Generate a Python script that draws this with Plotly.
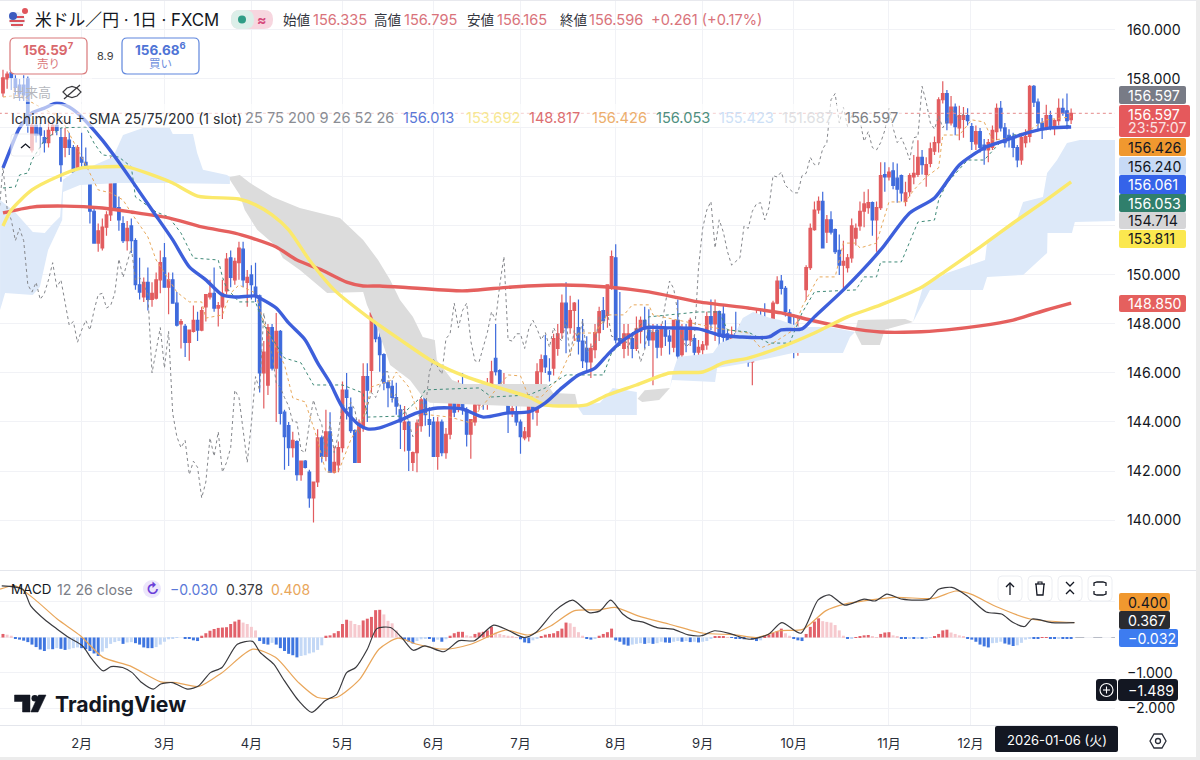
import plotly.graph_objects as go

# daily USD/JPY candles
opens = [
    157.43,158.0,158.25,158.0,157.75,157.75,158.0,155.1,156.1,156.0,
    155.6,155.4,155.9,156.1,155.6,155.2,155.5,155.2,154.2,154.8,
    154.6,154.35,152.6,151.3,151.1,151.95,152.45,154.4,152.75,152.1,
    151.4,152.0,151.4,149.6,149.1,149.7,149.0,149.05,149.8,150.7,
    149.5,149.8,148.85,148.0,147.9,147.25,147.7,148.15,147.75,148.7,
    149.1,149.25,148.65,148.7,149.35,150.7,149.8,150.5,151.05,149.7,
    150.0,149.5,149.15,146.0,145.5,147.85,146.2,147.7,144.4,143.85,
    142.95,143.2,141.85,142.4,141.95,140.9,141.55,143.35,142.6,143.6,
    141.95,142.25,142.95,145.3,144.6,143.65,142.35,143.8,145.85,146.1,
    148.45,147.45,146.75,145.6,145.45,145.0,144.5,143.7,144.0,142.35,
    142.75,143.85,145.0,144.1,144.0,142.6,144.0,142.75,143.5,144.8,
    144.55,144.8,144.5,143.5,144.0,144.7,145.2,145.0,145.4,146.6,
    146.1,144.9,145.15,144.35,144.35,144.0,143.35,143.4,144.9,144.4,
    146.05,146.7,146.05,146.2,147.0,147.65,148.85,147.85,148.55,147.85,
    147.3,147.0,146.45,146.95,147.65,148.55,148.35,149.5,150.7,147.4,
    147.0,147.4,147.4,147.0,147.7,148.15,147.75,147.35,147.75,147.05,
    147.85,147.5,147.05,148.15,146.75,147.75,147.35,147.4,146.85,146.95,
    147.15,148.3,148.0,148.5,148.4,147.6,147.35,147.6,147.2,147.6,
    147.35,146.45,146.95,147.85,147.95,147.6,147.5,148.85,149.75,149.45,
    148.45,147.85,147.05,147.1,149.4,150.3,151.85,152.65,153.0,151.75,
    152.25,151.85,151.0,150.4,150.3,150.7,151.5,152.0,152.6,152.75,
    152.95,152.25,152.75,154.1,154.0,154.25,153.95,154.05,153.0,153.4,
    154.0,154.1,154.8,154.1,154.55,155.05,155.4,157.15,157.4,156.2,
    156.85,156.0,156.35,156.5,156.05,155.35,155.85,155.3,155.1,155.2,
    155.85,156.8,156.0,155.7,155.6,155.2,154.7,155.4,155.65,157.7,
    157.05,156.2,156.0,156.5,156.0,156.3,156.8,156.7,156.335,
]
highs = [
    158.37,158.3,158.35,158.15,158.0,158.15,158.1,156.2,156.2,156.2,
    155.9,156.3,156.3,156.2,156.0,156.0,155.8,155.3,155.3,155.8,
    155.2,154.4,152.8,152.1,152.3,152.6,154.8,154.7,153.2,152.4,
    152.2,152.3,151.5,150.7,149.9,150.3,149.7,150.1,151.0,151.3,
    150.1,150.1,149.3,148.2,148.0,147.75,148.75,148.5,148.7,149.2,
    149.8,150.3,148.9,149.8,150.9,151.0,150.7,151.35,151.35,150.2,
    150.4,150.5,149.2,147.3,148.0,148.0,148.45,147.75,144.5,144.0,
    143.6,143.25,142.4,142.45,142.05,141.55,143.7,143.45,144.5,144.4,
    143.0,143.2,145.65,146.0,145.0,143.7,144.1,146.4,146.4,148.85,
    148.8,147.9,146.8,145.7,145.7,145.6,144.7,144.65,144.05,142.8,
    144.1,145.0,146.3,144.6,144.2,144.2,144.1,143.75,145.4,145.3,
    145.7,146.0,144.6,144.1,145.05,145.55,145.55,145.8,146.5,148.0,
    146.15,146.0,145.2,144.9,144.9,144.1,143.8,145.0,145.0,146.4,
    146.75,147.55,146.6,147.6,148.0,149.2,149.7,149.15,148.9,149.0,
    148.2,147.5,147.2,148.0,148.7,149.1,149.6,151.0,151.25,149.3,
    148.0,148.0,147.6,148.3,148.3,148.7,148.6,148.0,148.0,148.0,
    148.15,147.75,148.15,149.0,148.0,148.0,148.25,147.55,147.35,147.3,
    148.5,149.0,149.0,148.55,148.8,147.75,147.9,148.5,148.0,148.0,
    147.5,147.0,148.6,148.6,148.85,148.0,148.95,149.95,150.0,149.55,
    148.6,148.4,148.3,147.8,150.4,152.1,153.0,153.2,153.4,152.45,
    152.6,151.9,151.65,151.4,150.85,152.3,152.1,153.0,153.4,153.5,
    153.0,153.0,154.6,154.6,154.4,154.6,154.55,154.1,153.8,154.15,
    154.9,155.5,155.1,154.8,155.4,155.65,157.25,157.9,157.55,157.3,
    157.0,156.9,156.85,156.8,156.2,156.1,156.0,155.55,155.55,156.1,
    157.0,157.1,156.2,155.95,155.8,155.3,155.8,155.95,157.75,157.75,
    157.2,156.4,156.95,156.7,156.35,157.2,157.2,157.4,156.795,
]
lows = [
    157.27,157.6,157.55,157.35,157.1,157.1,155.8,155.0,155.4,155.2,
    155.0,155.2,155.7,155.7,153.8,154.8,154.9,153.8,153.9,154.0,
    154.2,152.1,151.3,150.95,151.0,151.6,152.2,152.7,151.8,151.3,
    151.0,150.9,149.4,149.0,148.9,148.55,148.7,149.0,149.25,149.5,
    148.4,148.85,147.9,147.0,146.65,146.5,147.65,147.3,147.7,148.1,
    149.0,148.5,147.9,148.2,149.2,149.5,149.6,149.8,149.5,148.7,
    149.0,148.9,145.2,144.55,145.1,146.1,144.0,143.9,142.05,142.2,
    142.55,141.6,141.6,142.1,140.5,139.9,141.35,142.35,142.4,141.95,
    141.9,141.95,142.75,144.1,143.55,142.35,142.35,143.6,144.0,145.2,
    147.25,146.05,145.3,144.6,144.8,144.3,142.9,142.8,142.0,142.0,
    141.95,143.6,143.85,143.4,142.6,142.05,142.6,142.5,143.3,144.2,
    144.4,144.3,143.0,142.5,143.85,144.5,144.5,144.5,144.9,145.9,
    144.7,144.7,143.55,144.2,143.85,142.7,143.25,143.2,144.1,143.85,
    145.5,146.0,145.65,145.9,146.7,147.4,146.8,147.6,147.3,146.75,
    146.2,146.0,145.8,146.6,147.3,147.75,147.85,149.4,147.2,147.1,
    146.6,146.7,146.6,146.9,147.2,147.0,147.1,145.5,146.6,146.7,
    147.1,146.75,146.85,146.3,146.65,146.85,147.1,146.6,146.6,146.6,
    146.95,147.75,147.3,146.8,147.2,146.3,146.95,146.9,146.9,147.0,
    146.25,145.5,146.55,147.0,147.5,147.3,147.3,148.8,149.2,148.3,
    147.1,146.6,146.7,147.0,148.98,150.2,151.8,152.5,151.1,151.3,
    151.65,150.85,150.0,149.45,150.1,150.5,151.2,151.8,151.95,152.5,
    151.6,150.95,152.65,153.4,153.85,153.5,152.95,153.0,152.8,153.2,
    153.7,154.0,154.1,153.6,154.4,154.9,155.0,157.0,155.9,156.1,
    155.7,155.5,155.6,156.1,155.1,155.1,155.0,154.5,154.6,155.1,
    155.5,155.85,155.2,155.2,154.8,154.4,154.5,155.2,155.4,156.85,
    155.9,155.55,155.9,155.9,155.7,156.1,156.5,155.95,156.165,
]
closes = [
    158.04,158.2,158.05,157.65,157.4,157.35,156.1,156.1,155.7,155.7,
    155.4,155.9,156.1,155.9,154.5,155.6,155.2,154.2,155.2,154.6,
    154.3,152.6,151.3,151.8,151.95,152.45,154.4,152.7,152.25,151.4,
    151.9,151.4,149.6,149.3,149.7,149.0,149.25,149.8,150.5,149.5,
    149.8,148.85,147.95,148.1,147.25,147.75,148.15,147.75,148.55,149.2,
    149.25,148.65,148.75,149.25,150.65,149.9,150.55,151.1,149.8,149.9,
    149.6,149.2,146.0,146.85,147.85,146.2,147.7,144.35,143.4,142.95,
    143.25,141.85,142.4,142.15,140.9,141.55,143.35,142.6,143.6,141.95,
    142.35,142.95,145.3,145.0,143.65,142.35,143.95,145.85,145.3,148.45,
    147.4,146.75,145.6,145.4,145.0,144.65,144.0,144.0,142.85,142.75,
    143.95,144.9,144.3,143.9,142.6,144.0,142.75,143.5,144.8,144.4,
    144.8,144.5,143.5,144.1,144.7,145.2,145.0,145.45,146.05,146.05,
    144.9,145.15,144.4,144.55,144.0,143.4,143.6,144.9,144.5,146.05,
    146.55,146.25,145.95,147.4,147.6,148.85,147.85,148.55,148.85,147.3,
    146.5,146.45,147.0,147.65,148.5,148.15,149.6,150.75,147.35,147.3,
    147.6,147.6,147.0,147.8,148.15,147.8,147.35,147.65,147.05,147.85,
    147.5,147.3,148.15,146.7,147.75,147.35,148.15,146.85,147.05,147.15,
    148.3,148.0,148.5,147.5,147.45,147.3,147.55,147.0,147.6,147.3,
    146.45,146.95,148.05,147.6,147.7,147.8,148.85,149.75,149.45,148.5,
    147.5,147.05,147.25,147.4,150.3,151.9,152.65,153.0,151.1,152.25,
    151.75,150.95,150.4,150.55,150.7,152.0,151.9,152.6,152.9,152.95,
    152.25,152.75,154.05,154.0,154.2,153.65,153.5,153.35,153.35,154.05,
    154.15,154.8,154.5,154.5,155.15,155.4,157.15,157.4,156.2,156.85,
    156.05,156.5,156.5,156.3,155.45,155.85,155.2,155.1,155.4,155.9,
    156.8,156.0,155.4,155.6,155.2,154.7,155.6,155.65,157.7,157.05,
    156.2,155.95,156.5,156.0,156.3,156.8,156.6,156.3,156.596,
]

# moving averages and ichimoku lines as (bar, price) points
sma25 = [(0,154.37),(2,155.22),(4,156.0),(7,156.61),(10,156.81),(13,157.02),(16,156.85),(19,156.45),
    (24,155.5),(28,154.6),(31,153.88),(36,152.65),(41,151.43),(45,150.33),(49,149.8),(53,149.18),
    (56,149.1),(61,149.14),(62,149.06),(66,148.65),(69,148.04),(73,147.35),(76,146.41),(79,145.6),
    (82,144.6),(86,143.88),(88,143.72),(91,143.76),(96,144.08),(100,144.37),(105,144.57),(111,144.53),
    (116,144.2),(122,144.37),(127,144.41),(131,144.78),(135,145.39),(139,145.92),(143,146.2),(146,146.74),
    (149,147.23),(155,147.84),(161,147.84),(168,147.8),(173,147.55),(178,147.47),(185,147.47),(188,147.76),
    (193,147.8),(196,148.29),(203,149.39),(212,151.02),(219,152.53),(225,153.14),(231,154.49),(237,155.18),
    (241,155.43),(248,155.83),(253,156.0),(258,156.04)]
sma75 = [(0,152.0),(2,152.65),(7,153.47),(13,154.0),(19,154.37),(24,154.41),(30,154.41),(36,154.08),
    (41,153.75),(47,153.22),(57,153.1),(61,152.86),(65,152.45),(69,151.84),(74,150.61),(80,149.39),
    (88,148.3),(96,147.35),(104,146.45),(112,145.84),(120,145.39),(127,145.02),(131,144.7),(136,144.65),
    (141,144.7),(146,145.1),(153,145.51),(161,146.0),(169,146.04),(174,146.41),(180,146.61),(188,147.06),
    (196,147.63),(204,148.29),(212,148.78),(222,149.51),(228,150.2),(236,151.14),(244,152.12),(251,152.94),
    (258,153.8)]
sma200 = [(0,152.53),(7,152.77),(15,152.81),(24,152.73),(31,152.57),(40,152.33),(48,151.96),(56,151.71),
    (60,151.51),(66,151.14),(71,150.61),(77,150.2),(83,149.71),(87,149.55),(91,149.55),(99,149.47),
    (111,149.35),(123,149.51),(135,149.59),(146,149.51),(156,149.31),(168,148.9),(180,148.65),(188,148.45),
    (196,148.12),(204,147.84),(212,147.67),(220,147.67),(228,147.76),(236,147.92),(244,148.16),(252,148.57),
    (258,148.85)]
tenkan = [(0,157.26),(4,157.34),(8,156.94),(14,156.41),(20,154.49),(23,153.47),(26,153.35),(29,153.06),
    (31,152.53),(35,151.55),(37,150.61),(42,149.3),(45,148.9),(48,148.9),(49,148.24),(53,148.37),
    (55,149.26),(57,149.59),(61,149.26),(63,148.04),(68,146.33),(70,144.98),(73,144.82),(76,143.27),
    (78,141.96),(81,141.96),(84,143.27),(87,144.17),(89,145.43),(94,145.72),(95,146.04),(98,145.43),
    (100,144.49),(103,144.29),(108,144.2),(113,143.96),(115,144.49),(122,145.92),(125,145.88),(127,145.02),
    (130,145.02),(134,145.72),(137,146.82),(139,147.63),(143,147.63),(146,148.37),(150,148.37),(152,148.78),
    (156,148.78),(157,148.37),(172,147.84),(180,147.63),(183,147.02),(186,147.22),(191,147.76),(193,148.69),
    (197,149.92),(201,149.92),(203,151.3),(206,151.3),(207,151.1),(211,151.3),(214,152.98),(218,152.98),
    (220,153.47),(223,154.0),(226,154.37),(227,155.71),(231,155.71),(234,156.33),(237,156.24),(239,155.51),
    (244,155.59),(248,155.92),(252,156.33),(258,156.45)]
kijun = [(0,153.55),(3,153.59),(4,154.08),(6,154.16),(7,154.69),(10,155.5),(14,156.0),(20,156.04),
    (22,155.38),(24,154.9),(28,154.81),(31,154.41),(32,153.18),(37,152.57),(40,152.37),(43,151.71),
    (46,150.69),(52,150.61),(53,149.92),(54,149.47),(57,148.9),(61,148.9),(63,147.96),(68,146.61),
    (72,146.41),(75,145.51),(82,145.51),(87,145.18),(88,144.2),(96,144.24),(101,145.02),(102,145.31),
    (115,145.39),(118,145.02),(127,145.1),(131,145.39),(136,145.92),(145,145.92),(147,146.82),(156,148.29),
    (168,148.49),(173,148.49),(175,147.76),(180,147.67),(185,147.22),(190,147.22),(193,148.45),(196,149.31),
    (206,149.39),(208,149.92),(211,149.92),(212,150.53),(217,150.53),(221,152.16),(225,152.24),(226,153.06),
    (228,153.75),(231,154.29),(233,154.69),(237,154.69),(241,155.43),(244,155.71),(258,156.12)]
chikou_shift = 26

# cloud pieces, upper and lower edge (bar, price)
kumo_up1_top = [(-0.7,153.06),(2.9,152.57),(7.2,151.75),(10.1,151.71),(11.8,152.04),(13.8,152.37),(14.5,153.88),
    (16.9,154.16),(18.6,154.37),(21,154.41),(26.6,154.81),(29,155.71),(33.8,156.0),(40.3,156.0),(41,155.75),
    (45.9,155.75),(46.9,154.98),(48.3,154.29),(54.1,154.08),(54.8,154.0)]
kumo_up1_bot = [(-0.7,148.57),(0.5,149.26),(7.2,149.18),(8.9,149.51),(10.9,151.02),(14.3,152.24),(14.5,153.39),
    (18.6,153.67),(28.3,153.75),(39.6,153.75),(54.8,153.71)]
kumo_dn1_top = [(54.8,154.0),(57.2,154.08),(59.7,153.75),(65.2,153.18),(71.7,152.73),(81.4,152.32),(87,151.43),
    (90.6,150.61),(93.5,149.8),(95.9,148.98),(99,148.29),(101.4,147.47),(104.3,147.35),(104.8,146.53),
    (108.5,145.71),(111.1,145.55),(131.4,145.55),(132.9,145.18),(138.2,145.14),(138.9,144.69)]
kumo_dn1_bot = [(54.8,153.88),(57.2,153.26),(58.4,152.65),(61.4,151.84),(66.2,151.14),(67.6,150.69),(71.7,150.2),
    (78.3,149.26),(87,149.3),(87.9,148.78),(90.6,147.76),(93.5,146.33),(98.3,145.71),(101.4,145.02),
    (103.1,144.78),(129,144.61),(138.9,144.61)]
kumo_up2_top = [(138.6,144.66),(144.2,144.78),(147.3,145.39),(153.1,145.22)]
kumo_up2_bot = [(138.6,144.66),(140.1,144.29),(143.5,144.29),(153.1,144.29)]
kumo_dn2_top = [(153.3,144.95),(155,145.3),(161.1,145.39)]
kumo_dn2_bot = [(153.3,144.95),(154.4,144.82),(158.5,144.9),(160.4,145.25),(161.1,145.39)]
kumo_up3_top = [(161.1,145.39),(161.8,146.04),(163,146.65),(171.5,146.82),(173.2,147.22),(176.3,147.43),
    (178.7,148.24),(181.2,148.49),(185.3,148.24),(187.7,148.16),(192.5,147.88),(199.8,147.88),(205.8,147.67)]
kumo_up3_bot = [(161.1,145.39),(161.6,145.71),(172,145.63),(172.5,146.2),(179.7,146.41),(190.8,146.82),
    (202.9,146.82),(204.6,147.47),(205.8,147.67)]
kumo_dn3_top = [(205.8,147.67),(206.5,148.16),(217.9,148.2),(219.8,148.08)]
kumo_dn3_bot = [(205.8,147.67),(207.4,147.14),(211.8,147.14),(213,147.76),(219.8,148.08)]
kumo_up4_top = [(219.8,148.08),(222.2,149.51),(228,150.08),(237.2,150.61),(237.7,151.3),(244.9,152.24),(246.4,152.98),
    (251.2,153.18),(252.2,154.16),(254.6,154.69),(257,155.38),(260.1,155.51),(268.6,155.51)]
kumo_up4_bot = [(219.8,148.08),(223.9,149.39),(236.7,149.39),(237.7,149.92),(246.4,150.0),(252.2,150.9),
    (252.3,151.71),(258.2,151.71),(258.9,152.16),(268.6,152.2)]

# MACD pane
macd_line = [(-0.3,1.455),(4.8,1.36),(6.7,0.89),(10.4,0.47),(13.1,0.235),(15.9,0.0),(19.2,-0.235),(21.5,-0.61),
    (24.2,-0.94),(26.1,-0.82),(28.9,-0.845),(31.2,-0.99),(33.5,-1.27),(36.3,-1.455),(38.1,-1.31),(40.9,-1.27),
    (44.6,-1.455),(47.3,-1.36),(50.1,-0.99),(52.9,-0.845),(56.6,-0.19),(60.3,-0.11),(62.1,-0.42),(65.4,-0.75),
    (67.7,-1.17),(71.4,-1.78),(74.6,-2.11),(77.8,-1.78),(80.6,-1.6),(83,-0.99),(85.2,-0.845),(88,-0.33),
    (90.3,0.25),(93.6,0.28),(96.3,0.0),(99.1,-0.36),(101.9,-0.235),(106.5,-0.4),(110.2,-0.09),(113.9,-0.09),
    (118.5,0.35),(122.2,0.19),(125.9,0.0),(128.7,0.14),(133.3,0.75),(137.6,1.05),(141.6,0.7),(144.2,0.75),
    (146.8,1.05),(149.7,0.66),(152,0.49),(154.4,0.44),(158,0.28),(161.8,0.235),(165.5,0.075),(168.7,0.05),
    (171.9,0.19),(175.6,0.11),(180.2,-0.05),(184.9,0.09),(188.1,0.42),(192.7,0.12),(196.9,1.06),(199.6,1.2),
    (203.3,0.91),(208,1.08),(210.7,1.03),(213.5,1.22),(217.2,1.08),(223.7,1.08),(226,1.36),(229.2,1.41),
    (232.9,1.17),(237.5,0.72),(241.2,0.66),(244,0.42),(246.8,0.31),(248.6,0.52),(253.3,0.42),(258.8,0.42)]
macd_signal = [(-0.7,1.36),(3,1.455),(7.6,1.08),(13.1,0.52),(18.7,0.05),(24.2,-0.56),(30.7,-0.8),(38.1,-1.25),
    (41.8,-1.27),(47.3,-1.38),(52.9,-0.99),(60.3,-0.33),(65.8,-0.56),(71.4,-1.27),(76,-1.69),(80.6,-1.69),
    (86.2,-1.17),(90.8,-0.33),(95.4,-0.02),(100,-0.19),(106.5,-0.33),(113,-0.19),(121.3,0.21),(126.8,0.07),
    (132.4,0.33),(137.9,0.75),(144.2,0.78),(147.9,0.85),(153.4,0.61),(160.8,0.38),(169.2,0.12),(176.5,0.08),
    (182.1,0.0),(187.6,0.19),(193.2,0.23),(198.7,0.75),(203.3,0.94),(215.4,1.13),(224.6,1.1),(230.2,1.31),
    (233.8,1.22),(240.3,0.85),(248.2,0.52),(258.8,0.42)]
macd_hist = [
    0.10,0.08,0.05,-0.02,-0.06,-0.09,-0.13,-0.2,-0.27,-0.34,
    -0.38,-0.33,-0.33,-0.3,-0.32,-0.35,-0.33,-0.3,-0.28,-0.3,
    -0.33,-0.38,-0.45,-0.52,-0.4,-0.3,-0.18,-0.13,-0.1,-0.18,
    -0.14,-0.13,-0.16,-0.2,-0.28,-0.3,-0.3,-0.27,-0.2,-0.12,
    -0.05,-0.02,-0.01,0.0,-0.02,-0.04,-0.08,-0.1,0.05,0.12,
    0.19,0.24,0.27,0.28,0.29,0.38,0.45,0.5,0.42,0.38,
    0.3,0.2,-0.1,-0.18,-0.2,-0.15,-0.2,-0.3,-0.38,-0.46,
    -0.5,-0.56,-0.52,-0.5,-0.45,-0.42,-0.35,-0.22,0.05,0.06,
    0.12,0.18,0.38,0.5,0.47,0.38,0.35,0.48,0.53,0.58,
    0.77,0.78,0.65,0.47,0.4,0.2,0.03,-0.06,-0.12,-0.17,
    -0.1,-0.05,-0.02,-0.04,-0.12,-0.06,-0.12,-0.05,0.05,0.12,
    0.16,0.16,0.06,0.03,0.1,0.14,0.16,0.2,0.3,0.14,
    0.1,0.07,0.05,0.03,0.01,-0.05,-0.14,-0.16,-0.08,-0.03,
    0.03,0.08,0.1,0.12,0.18,0.25,0.42,0.4,0.3,0.15,
    0.05,-0.02,-0.06,-0.04,0.05,0.1,0.15,0.25,-0.08,-0.12,
    -0.2,-0.23,-0.2,-0.18,-0.16,-0.18,-0.16,-0.18,-0.16,-0.12,
    -0.14,-0.15,-0.12,-0.1,-0.12,-0.1,-0.13,-0.12,-0.14,-0.12,
    -0.1,-0.02,0.02,0.03,0.03,0.01,-0.01,-0.02,-0.03,-0.05,
    -0.03,-0.06,-0.1,-0.08,0.02,0.08,0.13,0.18,0.25,0.12,
    0.05,-0.04,-0.08,-0.1,0.1,0.3,0.45,0.54,0.46,0.44,
    0.42,0.35,0.2,0.05,-0.03,-0.02,0.01,0.03,0.06,0.07,
    0.02,0.01,0.1,0.14,0.15,0.06,0.03,-0.03,-0.04,-0.02,
    -0.04,-0.02,-0.03,-0.02,-0.01,0.03,0.1,0.2,0.22,0.14,
    0.1,0.06,0.02,-0.03,-0.06,-0.12,-0.2,-0.25,-0.28,-0.16,
    -0.15,-0.12,-0.17,-0.2,-0.24,-0.22,-0.15,-0.06,-0.02,-0.02,
    -0.02,0.01,0.01,-0.02,-0.03,-0.02,-0.02,-0.03,-0.03,
]

month_bars = [19, 39, 60, 82, 104, 125, 148, 169, 191, 214, 233.7]
month_labels = ["2月", "3月", "4月", "5月", "6月", "7月", "8月", "9月", "10月", "11月", "12月"]
price_ticks = [160, 158, 150, 148, 146, 144, 142, 140]
price_labels = ["160.000", "158.000", "150.000", "148.000", "146.000", "144.000", "142.000", "140.000"]
# these levels only get a grid line, the price tags sit where their labels would be
price_grid_only = [156, 154, 152]
macd_ticks = [-1, -2]
macd_labels = ["−1.000", "−2.000"]
macd_grid_only = [1, 0]

FONT = "Inter, Noto Sans CJK JP, sans-serif"
RED = "#e25c5f"
BLUE = "#3f6bdc"
GRID = "#f1f2f6"


def fx(x):
    return x / 1200


def fy(y):
    return 1 - y / 760


bars = list(range(len(closes)))

fig = go.Figure()


def add_line(points, color, width, dash="solid", yaxis="y", xaxis="x", smooth=False):
    line = dict(color=color, width=width, dash=dash)
    if smooth:
        line.update(shape="spline", smoothing=0.7)
    fig.add_trace(go.Scatter(x=[p[0] for p in points], y=[p[1] for p in points], mode="lines",
                             line=line, xaxis=xaxis, yaxis=yaxis, hoverinfo="skip", showlegend=False))


def add_kumo(top, bottom, color):
    outline = top + bottom[::-1]
    fig.add_trace(go.Scatter(x=[p[0] for p in outline], y=[p[1] for p in outline], mode="lines",
                             fill="toself", fillcolor=color, line=dict(width=0),
                             hoverinfo="skip", showlegend=False))


KUMO_UP = "#dde9f9"
KUMO_DN = "#dcdcdc"
add_kumo(kumo_up1_top, kumo_up1_bot, KUMO_UP)
add_kumo(kumo_dn1_top, kumo_dn1_bot, KUMO_DN)
add_kumo(kumo_up2_top, kumo_up2_bot, KUMO_UP)
add_kumo(kumo_dn2_top, kumo_dn2_bot, KUMO_DN)
add_kumo(kumo_up3_top, kumo_up3_bot, KUMO_UP)
add_kumo(kumo_dn3_top, kumo_dn3_bot, KUMO_DN)
add_kumo(kumo_up4_top, kumo_up4_bot, KUMO_UP)

fig.add_trace(go.Candlestick(x=bars, open=opens, high=highs, low=lows, close=closes, whiskerwidth=0,
                             increasing=dict(line=dict(color=RED, width=1.2), fillcolor=RED),
                             decreasing=dict(line=dict(color=BLUE, width=1.2), fillcolor=BLUE),
                             hoverinfo="skip", showlegend=False))

add_line([(b - chikou_shift, c) for b, c in zip(bars, closes)], "#85878c", 1, "dot")
add_line(tenkan, "#e8a95c", 1, "dot")
add_line(kijun, "#3f8a78", 1, "dot")
add_line(sma200, "#e5605e", 3.4, smooth=True)
add_line(sma75, "#fbe96b", 3.4, smooth=True)
add_line(sma25, "#3d5fdb", 3.4, smooth=True)

# histogram colour follows rising / falling like the TradingView default
hist_colors = []
for i, v in enumerate(macd_hist):
    prev = macd_hist[i - 1] if i else v
    if v >= 0:
        hist_colors.append("#e2616a" if v >= prev else "#f6c9ce")
    else:
        hist_colors.append("#3f76e0" if v <= prev else "#c3d8f6")
fig.add_trace(go.Bar(x=bars, y=macd_hist, marker=dict(color=hist_colors, line=dict(width=0)), width=0.72,
                     xaxis="x2", yaxis="y2", hoverinfo="skip", showlegend=False))
add_line(macd_signal, "#e9a65a", 1.2, yaxis="y2", xaxis="x2", smooth=True)
add_line(macd_line, "#3a3a3e", 1.2, yaxis="y2", xaxis="x2", smooth=True)

shapes = []
annots = []


def text(x, y, s, size=13, color="#131722", anchor="left", weight=None):
    if weight:
        s = f"<b>{s}</b>"
    annots.append(dict(x=fx(x), y=fy(y), xref="paper", yref="paper", text=s, showarrow=False,
                       xanchor=anchor, yanchor="middle", align=anchor, borderpad=0,
                       font=dict(family=FONT, size=size, color=color)))


def rrect(x0, y0, x1, y1, r=3, fill="white", line=None, width=1, opacity=1):
    p = (f"M{fx(x0 + r)},{fy(y0)} L{fx(x1 - r)},{fy(y0)} Q{fx(x1)},{fy(y0)} {fx(x1)},{fy(y0 + r)} "
         f"L{fx(x1)},{fy(y1 - r)} Q{fx(x1)},{fy(y1)} {fx(x1 - r)},{fy(y1)} "
         f"L{fx(x0 + r)},{fy(y1)} Q{fx(x0)},{fy(y1)} {fx(x0)},{fy(y1 - r)} "
         f"L{fx(x0)},{fy(y0 + r)} Q{fx(x0)},{fy(y0)} {fx(x0 + r)},{fy(y0)} Z")
    shapes.append(dict(type="path", path=p, xref="paper", yref="paper", fillcolor=fill, opacity=opacity,
                       line=dict(color=line or fill, width=width if line else 0), layer="above"))


def poly(points, color="#131722", width=1.3, fill=None, close=False):
    p = "M" + " L".join(f"{fx(x)},{fy(y)}" for x, y in points) + (" Z" if close else "")
    shapes.append(dict(type="path", path=p, xref="paper", yref="paper", layer="above",
                       fillcolor=fill or "rgba(0,0,0,0)", line=dict(color=color, width=width)))


def circle(cx, cy, r, fill=None, line=None, width=1):
    shapes.append(dict(type="circle", xref="paper", yref="paper", layer="above",
                       x0=fx(cx - r), x1=fx(cx + r), y0=fy(cy - r), y1=fy(cy + r),
                       fillcolor=fill or "rgba(0,0,0,0)", line=dict(color=line or "rgba(0,0,0,0)", width=width)))


# price line of the last close, macd zero line, pane separators
shapes.append(dict(type="line", xref="x", yref="y", x0=-1, x1=268.6, y0=closes[-1], y1=closes[-1], layer="above",
                   line=dict(color="#e58a8a", width=1, dash="dot")))
shapes.append(dict(type="line", xref="x2", yref="y2", x0=259, x1=268.6, y0=0, y1=0, layer="above",
                   line=dict(color="#b8bcc6", width=1, dash="dash")))
poly([(0, 570.5), (1200, 570.5)], "#e4e6ec", 1)
poly([(0, 725.5), (1115, 725.5)], "#e4e6ec", 1)
poly([(0, 0.5), (1200, 0.5)], "#e8e9ee", 1)
rrect(1196, 0, 1200, 760, 0, "#ececec")
rrect(0, 757, 1200, 760, 0, "#ececec")

# faded panels behind the legend rows
rrect(8, 78, 92, 102, 0, "white", opacity=0.55)
rrect(8, 104, 905, 127, 0, "white", opacity=0.6)
rrect(11, 134, 40, 156, 3, "white", "#e6e7ec", 1, opacity=0.65)
poly([(21, 148), (25.5, 144), (30, 148)], "#131722", 1.3)

# header
circle(17, 20, 8, "#eef0f4")
poly([(10, 17), (24, 17)], "#d8505a", 2)
poly([(9.5, 21), (24.5, 21)], "#d8505a", 2)
poly([(11, 25), (23, 25)], "#d8505a", 2)
circle(13, 16, 4, "#3c5bbf")
circle(25, 11, 3, "#e0555c")
text(34, 20, "米ドル／円 · 1日 · FXCM", 16.8, "#131722")
rrect(231, 10, 273, 29, 9, "#f7d6df")
rrect(231, 10, 254, 29, 9, "#dcefe9")
circle(242, 19.5, 4, "#2f9d86")
text(262, 19.5, "≈", 14, "#d64a7c", "center", True)
RED_TXT = "#d9737b"
VAL_SIZE = 14.6
text(282, 20, "始値", 13.5, "#333640")
text(312, 20, "156.335", VAL_SIZE, RED_TXT)
text(373, 20, "高値", 13.5, "#333640")
text(403, 20, "156.795", VAL_SIZE, RED_TXT)
text(466, 20, "安値", 13.5, "#333640")
text(496, 20, "156.165", VAL_SIZE, RED_TXT)
text(559, 20, "終値", 13.5, "#333640")
text(588, 20, "156.596", VAL_SIZE, RED_TXT)
text(650, 20, "+0.261 (+0.17%)", VAL_SIZE, RED_TXT)

# bid / ask boxes
rrect(10, 38, 87, 74, 5, "white", "#d9787a", 1.2)
text(48.5, 49, "<b>156.59<sup>7</sup></b>", 13.5, "#d9686c", "center")
text(48.5, 64, "売り", 11.5, "#d9787a", "center")
text(105, 56, "8.9", 11, "#444", "center")
rrect(122, 38, 199, 74, 5, "white", "#5f86dd", 1.2)
text(160.5, 49, "<b>156.68<sup>6</sup></b>", 13.5, "#4f74d6", "center")
text(160.5, 64, "買い", 11.5, "#6f8fdd", "center")

# volume row and hidden-eye icon
text(11, 92, "出来高", 13, "#b5b7bd")
poly([(63, 92), (67, 88), (72, 86.5), (77, 88), (81, 92), (77, 96), (72, 97.5), (67, 96)], "#3a3a3e", 1.2, close=True)
poly([(64, 99), (80, 85)], "#3a3a3e", 1.3)

# indicator legend
text(10, 118, "Ichimoku + SMA 25/75/200 (1 slot)", 14.1, "#2c2f36")
text(244, 118, "25 75 200 9 26 52 26", 14.6, "#8a8d94")
legend_vals = ["156.013", "153.692", "148.817", "156.426", "156.053", "155.423", "151.687", "156.597"]
legend_cols = ["#5a78d8", "#f7e892", "#dc6e70", "#ecae6c", "#4f8f80", "#cddff6", "#dedfe3", "#7d7f85"]
for lx, lv, lc in zip([402, 465, 528, 591, 655, 718, 781, 844], legend_vals, legend_cols):
    text(lx, 118, lv, VAL_SIZE, lc)

# price tags on the right axis
TAG_SIZE = 14.2
tags = [(86, 104, "156.597", "#787b86", "white"), (138, 156, "156.426", "#f0982f", "#131722"),
        (157, 175, "156.240", "#c7daf6", "#131722"), (175, 194, "156.061", "#3563e9", "white"),
        (194, 212, "156.053", "#307f6c", "white"), (212, 229, "154.714", "#d6d6d8", "#131722"),
        (230, 248, "153.811", "#fbe84f", "#131722"), (295, 312, "148.850", "#e5605e", "white")]
for t0, t1, tv, bg, fg in tags:
    rrect(1119, t0, 1186, t1, 2, bg)
    text(1127, (t0 + t1) / 2, tv, TAG_SIZE, fg)
rrect(1119, 105, 1190, 137, 2, "#e5595c")
text(1127, 114, "156.597", TAG_SIZE, "white")
text(1127, 128, "23:57:07", TAG_SIZE, "#fbe3e3")

# MACD legend and tags
text(10, 589, "MACD", 13.4, "#131722")
text(56, 589, "12 26 close", 14.2, "#7b7e86")
circle(152, 589, 9, "#ece6fb")
text(152, 588.5, "↻", 14, "#6a3fd8", "center", True)
text(169, 589, "−0.030", 14, "#5a78d8")
text(225, 589, "0.378", 14, "#3a3a3e")
text(270, 589, "0.408", 14, "#e9a65a")
rrect(1119, 593, 1170, 611, 2, "#f0982f")
text(1127, 602, "0.400", TAG_SIZE, "#131722")
rrect(1119, 611, 1170, 629, 2, "#2a2b30")
text(1127, 620, "0.367", TAG_SIZE, "white")
rrect(1119, 629, 1178, 647, 2, "#3d7cf0")
text(1127, 638, "−0.032", TAG_SIZE, "white")
rrect(1096, 679, 1117, 701, 3, "#131722")
circle(1106.5, 690, 6.5, None, "white", 1.1)
poly([(1103, 690), (1110, 690)], "white", 1.1)
poly([(1106.5, 686.5), (1106.5, 693.5)], "white", 1.1)
rrect(1118, 679, 1178, 701, 3, "#131722")
text(1127, 690, "−1.489", TAG_SIZE, "white")
rrect(995, 726, 1118, 752, 2, "#131722")
text(1056.5, 739.5, "2026-01-06 (火)", 13, "white", "center")

# pane buttons
for bx in [998, 1028, 1058, 1088]:
    rrect(bx, 576, bx + 24, 601, 4, "white", "#eceef2", 1)
poly([(1010, 595), (1010, 583)], "#131722", 1.3)
poly([(1006, 587), (1010, 583), (1014, 587)], "#131722", 1.3)
poly([(1035, 584), (1045, 584)], "#131722", 1.3)
poly([(1038, 584), (1038, 582), (1042, 582), (1042, 584)], "#131722", 1.1)
poly([(1036, 584), (1037, 595), (1043, 595), (1044, 584)], "#131722", 1.3)
poly([(1066, 582), (1070, 586), (1074, 582)], "#131722", 1.3)
poly([(1066, 594), (1070, 590), (1074, 594)], "#131722", 1.3)
poly([(1094, 586), (1094, 583), (1097, 582), (1103, 582), (1106, 583), (1106, 586)], "#131722", 1.3)
poly([(1094, 591), (1094, 594), (1097, 595), (1103, 595), (1106, 594), (1106, 591)], "#131722", 1.3)

# settings hexagon
poly([(1150, 741), (1154, 734), (1162, 734), (1166, 741), (1162, 748), (1154, 748)], "#2a2e39", 1.3, close=True)
circle(1158, 741, 2.5, None, "#2a2e39", 1.3)

# TradingView logo
poly([(14.5, 695), (30, 695), (30, 712), (22.5, 712), (22.5, 701.5), (14.5, 701.5)], "#131722", 0.5, "#131722", True)
circle(34.8, 698.3, 3.3, "#131722")
poly([(38.5, 695), (46, 695), (38, 712), (30.8, 712)], "#131722", 0.5, "#131722", True)
text(54, 703.5, "TradingView", 21.2, "#131722", "left", True)

fig.update_layout(
    width=1200, height=760, margin=dict(l=0, r=0, t=0, b=0), autosize=False,
    paper_bgcolor="white", plot_bgcolor="white", showlegend=False, barmode="overlay", dragmode=False, boxgap=0.12,
    font=dict(family=FONT, size=13, color="#131722"),
    shapes=shapes, annotations=annots,
    xaxis=dict(domain=[0, 1115 / 1200], range=[-0.72, 268.6], rangeslider=dict(visible=False), tickvals=month_bars,
               showticklabels=False, ticks="", gridcolor=GRID, showline=False, zeroline=False, anchor="y"),
    yaxis=dict(domain=[fy(570), 1], range=[137.96, 161.22], side="right", anchor="x", tickvals=price_ticks,
               ticktext=price_labels, gridcolor=GRID, zeroline=False, showline=False, ticks="",
               minor=dict(tickvals=price_grid_only, showgrid=True, gridcolor=GRID, ticks=""),
               tickfont=dict(family=FONT, size=TAG_SIZE, color="#131722"), ticklabelstandoff=11),
    xaxis2=dict(domain=[0, 1115 / 1200], range=[-0.72, 268.6], tickvals=month_bars, ticktext=month_labels,
                gridcolor=GRID, showline=False, zeroline=False, ticks="", anchor="y2",
                tickfont=dict(family=FONT, size=13, color="#2a2e39"), ticklabelstandoff=9),
    yaxis2=dict(domain=[fy(725), fy(571)], range=[-2.465, 1.873], side="right", anchor="x2", tickvals=macd_ticks,
                ticktext=macd_labels, gridcolor=GRID, zeroline=False, showline=False, ticks="",
                minor=dict(tickvals=macd_grid_only, showgrid=True, gridcolor=GRID, ticks=""),
                tickfont=dict(family=FONT, size=TAG_SIZE, color="#131722"), ticklabelstandoff=11),
)

fig.write_html("out.html", post_script="document.body.style.margin='0';", config=dict(displayModeBar=False))
